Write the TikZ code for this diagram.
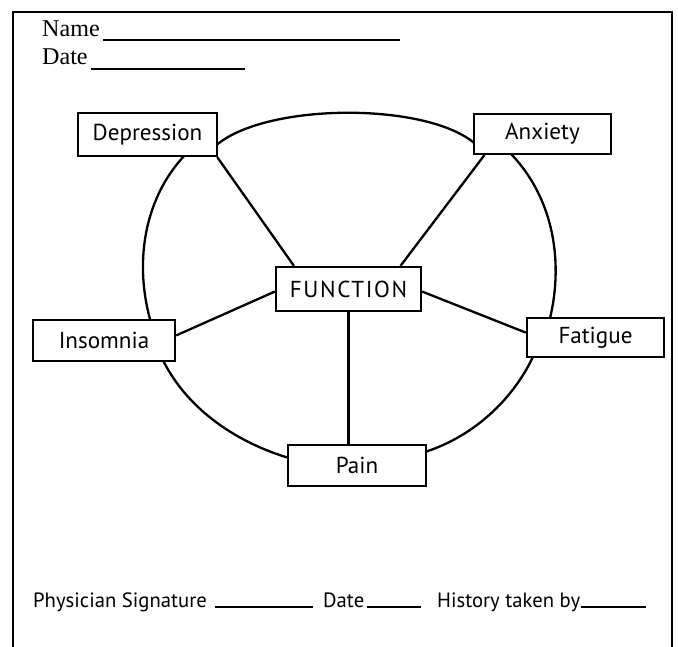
\documentclass[tikz,border=0pt]{standalone}
\usepackage{fontspec}
\setmainfont{PT Sans}
\newfontfamily\formfont{Liberation Serif}
\newfontfamily\capsfont[LetterSpace=7]{PT Sans}
\usetikzlibrary{positioning}

\begin{document}
\begin{tikzpicture}[x=0.0175cm, y=-0.0175cm, line width=1.15pt,
    label box/.style={draw, fill=white, inner sep=0pt, font=\fontsize{11.5}{13}\selectfont},
    form text/.style={inner sep=0pt, anchor=base west, font=\fontsize{10.3}{12}\selectfont}]
    \useasboundingbox (0,0) rectangle (678,647);
    % outer frame
    \draw[line width=1.3pt] (13,660) -- (13,12) -- (672,12) -- (672,660);
    % name and date
    \node[form text, font=\formfont\fontsize{12}{14}\selectfont] (name) at (41,37) {Name};
    \draw (103,40) -- (400,40);
    \node[form text, font=\formfont\fontsize{12}{14}\selectfont] (date) at (41,65) {Date};
    \draw (91,69) -- (245,69);
    % the ring, one arc between each pair of boxes
    \draw (208,154) .. controls (248,99) and (450,99) .. (484,154);
    \draw (505,148) .. controls (555,195) and (565,265) .. (548,326);
    \draw (536,350) .. controls (515,400) and (470,440) .. (418,454);
    \draw (296,460) .. controls (240,445) and (185,410) .. (160,354);
    \draw (152,326) .. controls (133,265) and (143,195) .. (190,150);
    % boxes
    \node[label box, minimum width=139*0.0175cm, minimum height=43*0.0175cm] (depression) at (147.5,134.5) {Depression};
    \node[label box, minimum width=137*0.0175cm, minimum height=40*0.0175cm] (anxiety) at (542.5,134) {\raisebox{-2pt}{Anxiety}};
    \node[label box, minimum width=145*0.0175cm, minimum height=44*0.0175cm] (function) at (348.5,289) {\capsfont FUNCTION};
    \node[label box, minimum width=142*0.0175cm, minimum height=41*0.0175cm] (insomnia) at (104,340.5) {Insomnia};
    \node[label box, minimum width=137*0.0175cm, minimum height=39*0.0175cm] (fatigue) at (595.5,337.5) {Fatigue};
    \node[label box, minimum width=138*0.0175cm, minimum height=41*0.0175cm] (pain) at (357,465.5) {Pain};
    % spokes
    \draw (depression.-18) -- (function.157);
    \draw (anxiety.200) -- (function.24);
    \draw (insomnia.4) -- (function.182);
    \draw (function.-2) -- (fatigue.176);
    \draw (function.south) -- (function.south |- pain.north);
    % signature line
    \node[form text] (signature) at (32,607) {Physician Signature};
    \draw (215,607) -- (313,607);
    \node[form text] (sigdate) at (322,607) {Date};
    \draw (367,607) -- (421,607);
    \node[form text] (history) at (436,607) {History taken by};
    \draw (581,607) -- (646,607);
\end{tikzpicture}
\end{document}
